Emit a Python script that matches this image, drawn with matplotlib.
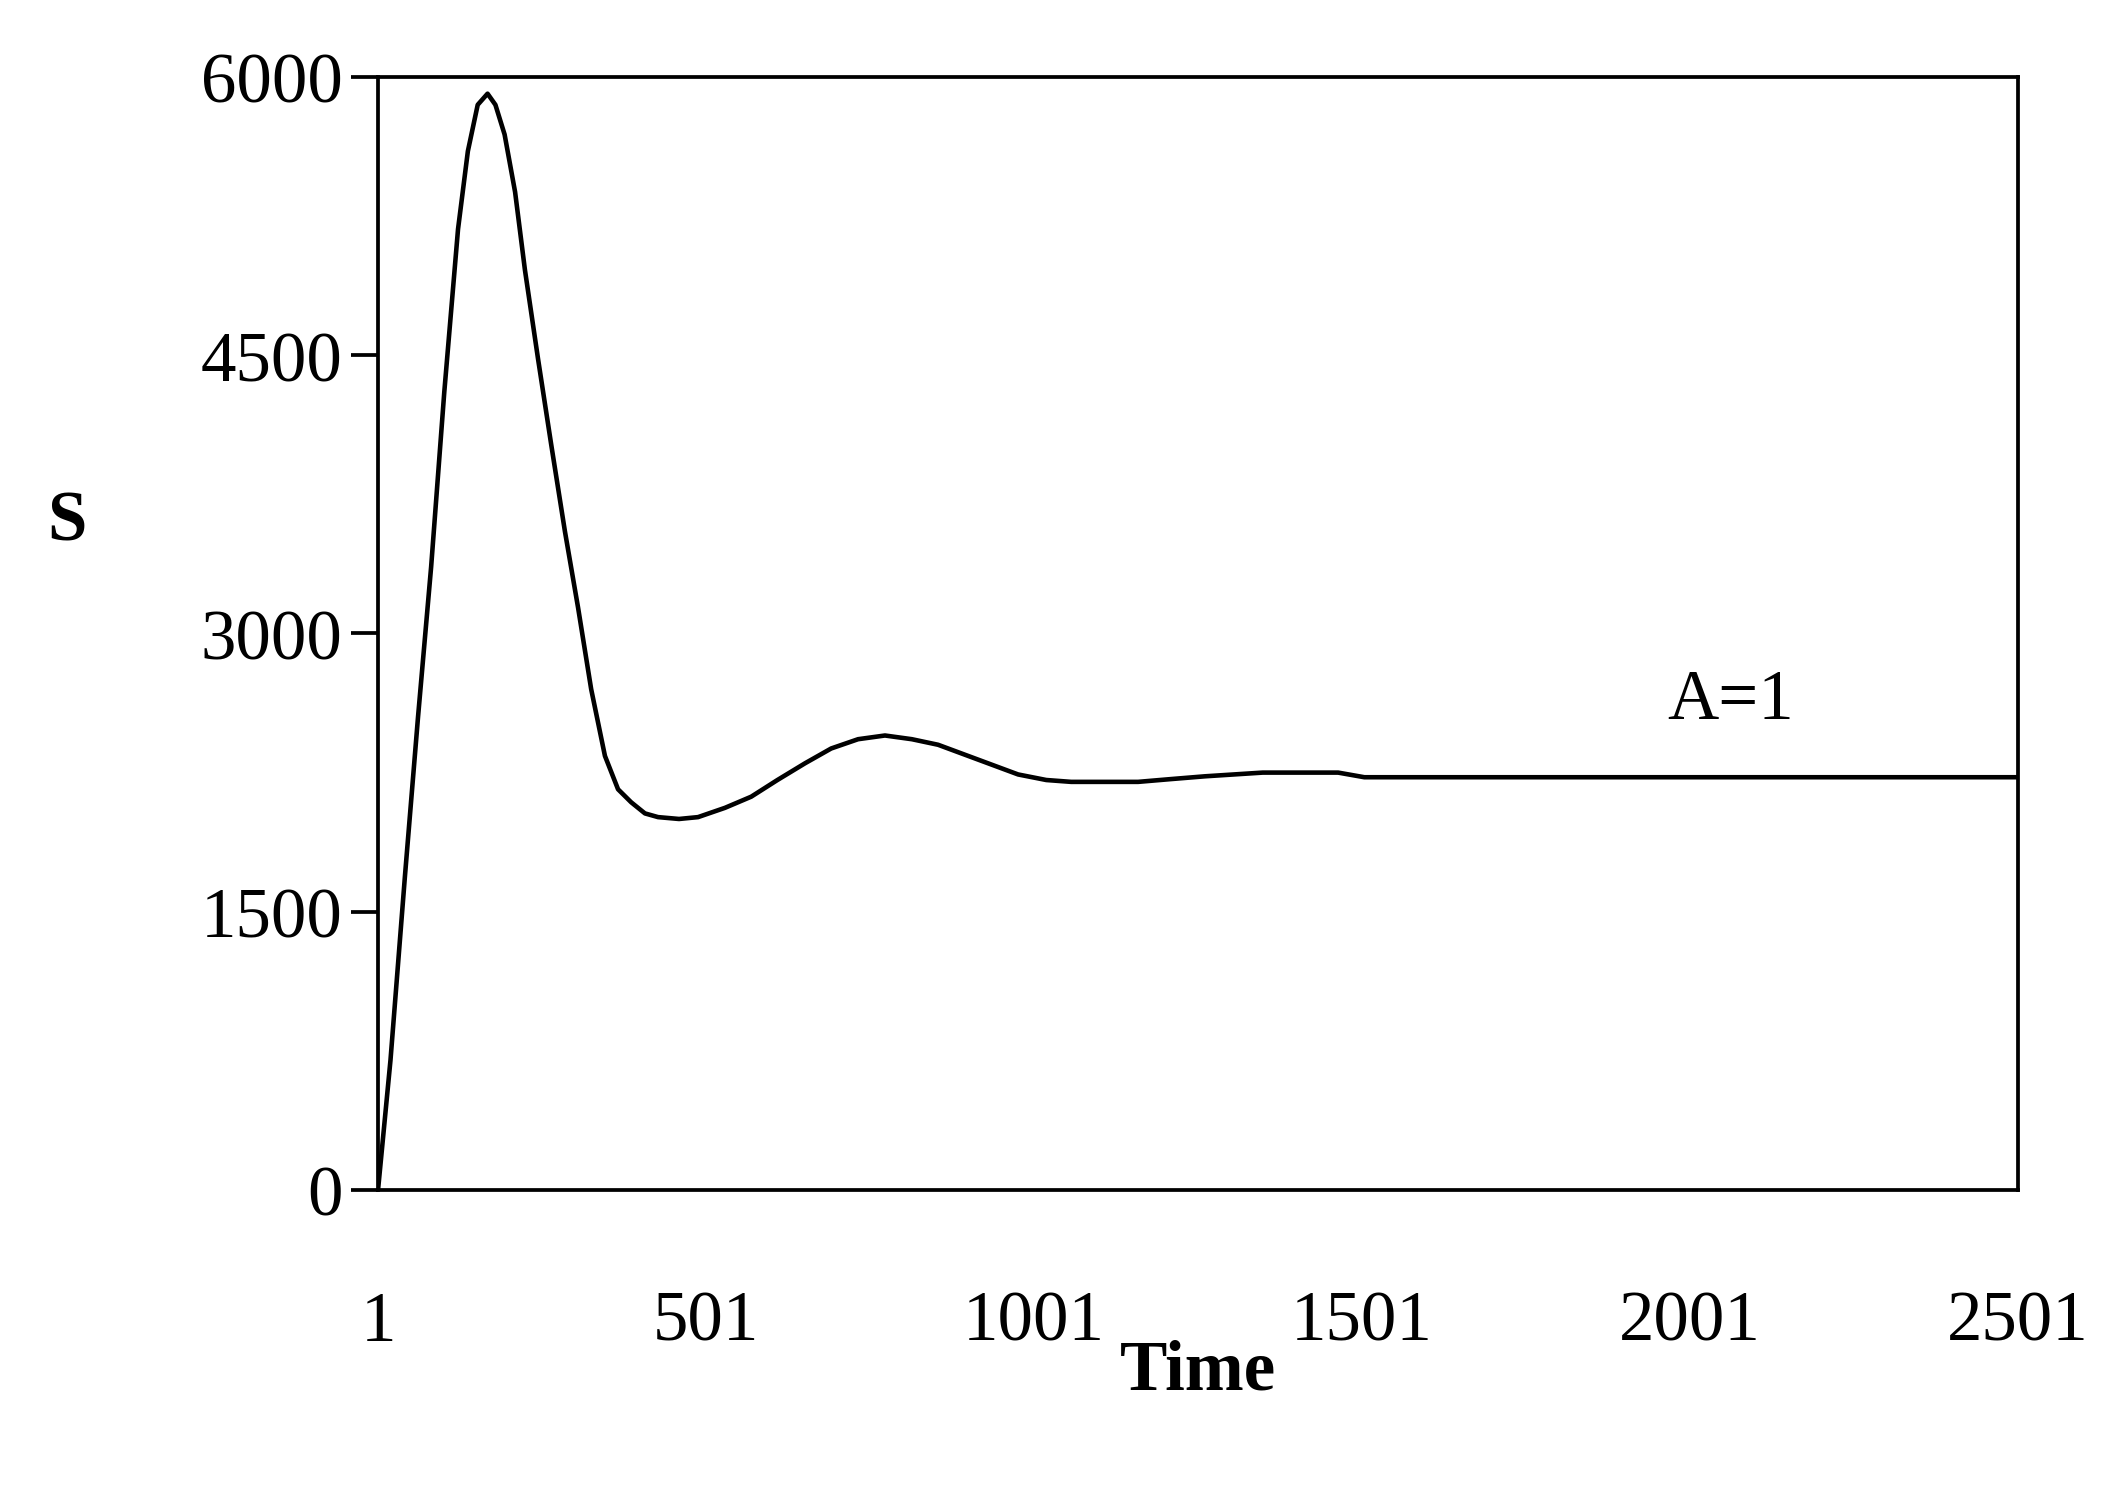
import matplotlib.pyplot as plt

plt.rcParams["font.family"] = ["Liberation Serif", "DejaVu Serif"]

# values
time = [1, 20, 42, 62, 82, 102, 123, 138, 153, 168, 180, 194, 210, 225, 245,
        265, 286, 306, 326, 347, 367, 387, 408, 428, 460, 489, 530, 570, 610,
        652, 692, 733, 774, 815, 855, 916, 977, 1020, 1058, 1160, 1210, 1262,
        1350, 1465, 1505, 2501]
s_vals = [0, 700, 1690, 2550, 3360, 4300, 5180, 5600, 5850, 5910, 5850, 5690,
          5380, 4960, 4480, 4020, 3550, 3140, 2700, 2340, 2160, 2090, 2030,
          2010, 2000, 2010, 2060, 2120, 2210, 2300, 2380, 2430, 2450, 2430,
          2400, 2320, 2240, 2210, 2200, 2200, 2215, 2230, 2250, 2250, 2225,
          2225]
x_ticks = [1, 501, 1001, 1501, 2001, 2501]
y_ticks = [0, 1500, 3000, 4500, 6000]

fig = plt.figure(figsize=(14.04, 9.933), dpi=150)
ax = fig.add_axes([0.1795, 0.2007, 0.7785, 0.747])
ax.plot(time, s_vals, color="black", linewidth=2.2)

ax.set_xlim(1, 2501)
ax.set_ylim(0, 6000)
ax.set_xticks(x_ticks)
ax.set_yticks(y_ticks)
ax.tick_params(axis="x", length=0, pad=48, labelsize=34)
ax.tick_params(axis="y", length=13, width=1.8, direction="out", labelsize=34, pad=4)
for sp in ax.spines.values():
    sp.set_linewidth(1.8)

ax.set_xlabel("Time", fontsize=34, fontweight="bold", labelpad=-8)
ax.set_ylabel("S", fontsize=34, fontweight="bold", rotation=0, va="center")
ax.yaxis.set_label_coords(-0.19, 0.6)
ax.text(2064, 2640, "A=1", fontsize=34, ha="center", va="center")

fig.savefig("out.png", dpi=150)
